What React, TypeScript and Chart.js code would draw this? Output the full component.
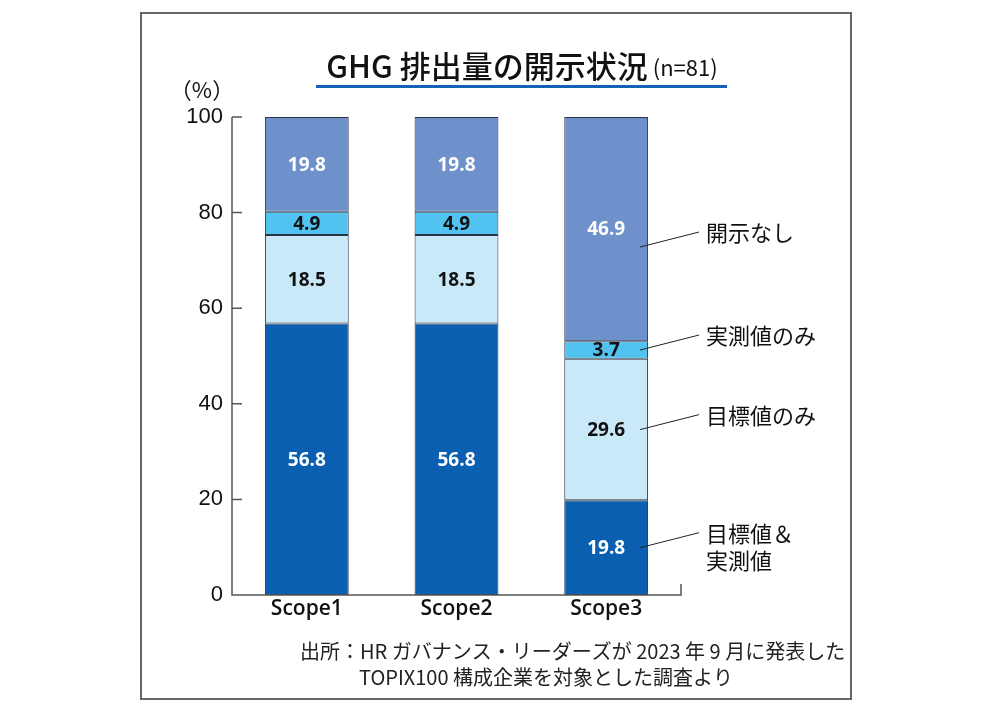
import React, { useEffect, useRef } from "react";
import { Chart, registerables } from "chart.js";
Chart.register(...registerables);

const categories = ["Scope1", "Scope2", "Scope3"];
const seriesNames = ["目標値＆実測値", "目標値のみ", "実測値のみ", "開示なし"];
const bothValues = [56.8, 56.8, 19.8];
const targetOnlyValues = [18.5, 18.5, 29.6];
const measuredOnlyValues = [4.9, 4.9, 3.7];
const noDisclosureValues = [19.8, 19.8, 46.9];
const yTicks = [0, 20, 40, 60, 80, 100];
const legendLabels = [["目標値＆", "実測値"], ["目標値のみ"], ["実測値のみ"], ["開示なし"]];
const titleText = "GHG 排出量の開示状況";
const titleSub = "(n=81)";
const unitText = "（%）";
const sourceLines = ["出所：HR ガバナンス・リーダーズが 2023 年 9 月に発表した", "TOPIX100 構成企業を対象とした調査より"];

const fillColors = ["#0a5fb0", "#c9e8f8", "#52c3f0", "#6e90cb"];
const labelColors = ["#ffffff", "#111111", "#111111", "#ffffff"];
const leaderFrac = [0.5, 0.5, 0.5, 0.42];
const CJK = "'Noto Sans CJK JP', 'Noto Sans', sans-serif";
const NUM = "'Open Sans', 'Noto Sans', sans-serif";
const AXIS = "'Liberation Sans', Arial, sans-serif";

const overlay = {
  id: "overlay",
  afterDatasetsDraw(chart: any) {
    const ctx = chart.ctx as CanvasRenderingContext2D;
    const { left, right, bottom } = chart.chartArea;
    const ys = chart.scales.y;
    ctx.save();
    // axes
    ctx.strokeStyle = "#555";
    ctx.lineWidth = 1.5;
    ctx.beginPath();
    ctx.moveTo(left, ys.getPixelForValue(100));
    ctx.lineTo(left, bottom);
    ctx.lineTo(right, bottom);
    ctx.lineTo(right, bottom - 11);
    yTicks.forEach((v) => {
      const y = ys.getPixelForValue(v);
      ctx.moveTo(left, y);
      ctx.lineTo(left + 10, y);
    });
    ctx.stroke();

    // value labels
    ctx.font = `700 19px ${NUM}`;
    ctx.textAlign = "center";
    ctx.textBaseline = "middle";
    chart.data.datasets.forEach((ds: any, i: number) => {
      const meta = chart.getDatasetMeta(i);
      meta.data.forEach((bar: any, j: number) => {
        const { x, y, base } = bar.getProps(["x", "y", "base"], true);
        ctx.fillStyle = labelColors[i];
        ctx.fillText(Number(ds.data[j]).toFixed(1), x, (y + base) / 2 + 1);
      });
    });

    // leader lines + labels for last category
    const last = categories.length - 1;
    ctx.strokeStyle = "#222";
    ctx.lineWidth = 1;
    ctx.font = `400 22px ${CJK}`;
    ctx.textAlign = "left";
    ctx.fillStyle = "#111";
    chart.data.datasets.forEach((ds: any, i: number) => {
      const bar = chart.getDatasetMeta(i).data[last];
      const { x, y, base, width } = bar.getProps(["x", "y", "base", "width"], true);
      const sx = x + width / 2 - 8;
      const sy = base + (y - base) * leaderFrac[i];
      const ex = sx + 59;
      const ey = sy - 15;
      ctx.beginPath();
      ctx.moveTo(sx, sy);
      ctx.lineTo(ex, ey);
      ctx.stroke();
      legendLabels[i].forEach((t, k) => {
        ctx.fillText(t, ex + 7, ey + 1 + k * 27);
      });
    });
    ctx.restore();
  },
  afterDraw(chart: any) {
    const ctx = chart.ctx as CanvasRenderingContext2D;
    ctx.save();
    // frame
    ctx.strokeStyle = "#666";
    ctx.lineWidth = 2;
    ctx.strokeRect(141, 13, 710, 686);
    // title
    ctx.textBaseline = "middle";
    ctx.textAlign = "left";
    ctx.fillStyle = "#111";
    ctx.font = `500 31px ${CJK}`;
    const w1 = ctx.measureText(titleText).width;
    ctx.font = `400 22px ${CJK}`;
    const w2 = ctx.measureText(" " + titleSub).width;
    const sx = 522 - (w1 + w2) / 2;
    ctx.font = `500 31px ${CJK}`;
    ctx.fillText(titleText, sx, 66);
    ctx.font = `400 22px ${CJK}`;
    ctx.fillText(" " + titleSub, sx + w1, 68);
    ctx.fillStyle = "#1462b5";
    ctx.fillRect(316, 85, 411, 3);
    // unit
    ctx.fillStyle = "#111";
    ctx.font = `400 22px ${CJK}`;
    ctx.textAlign = "center";
    ctx.fillText(unitText, 202, 90);
    // source
    ctx.textAlign = "left";
    ctx.font = `400 20px ${CJK}`;
    ctx.fillStyle = "#222";
    ctx.fillText(sourceLines[0], 300, 651);
    ctx.fillText(sourceLines[1], 359, 677);
    ctx.restore();
  },
};

export default function App() {
  const ref = useRef<HTMLCanvasElement>(null);
  useEffect(() => {
    document.body.style.margin = "0";
    const canvas = ref.current!;
    const seriesValues = [bothValues, targetOnlyValues, measuredOnlyValues, noDisclosureValues];
    const chart = new Chart(canvas, {
      type: "bar",
      data: {
        labels: categories,
        datasets: seriesNames.map((name, i) => ({
          label: name,
          data: seriesValues[i],
          backgroundColor: fillColors[i],
          borderColor: "#2b3445",
          borderWidth: 1,
          borderSkipped: false,
          barPercentage: 0.56,
          categoryPercentage: 1,
        })),
      },
      options: {
        animation: false,
        responsive: false,
        devicePixelRatio: 1,
        layout: { padding: { left: 152, right: 311, top: 117, bottom: 88 } },
        plugins: {
          legend: { display: false },
          tooltip: { enabled: false },
          title: { display: false },
        },
        scales: {
          x: {
            stacked: true,
            grid: { display: false, drawTicks: false },
            border: { display: false },
            ticks: { color: "#111", font: { family: NUM, size: 21, weight: 600 }, padding: 1, maxRotation: 0 },
            afterFit: (s: any) => {
              s.height = 30;
            },
          },
          y: {
            stacked: true,
            min: 0,
            max: 100,
            grid: { display: false, drawTicks: false },
            border: { display: false },
            ticks: { stepSize: 20, color: "#111", font: { family: AXIS, size: 22 }, padding: 9 },
            afterFit: (s: any) => {
              s.width = 80;
            },
          },
        },
      },
      plugins: [overlay],
    });
    return () => chart.destroy();
  }, []);
  return <canvas ref={ref} width={992} height={713} style={{ display: "block", width: 992, height: 713 }} />;
}
